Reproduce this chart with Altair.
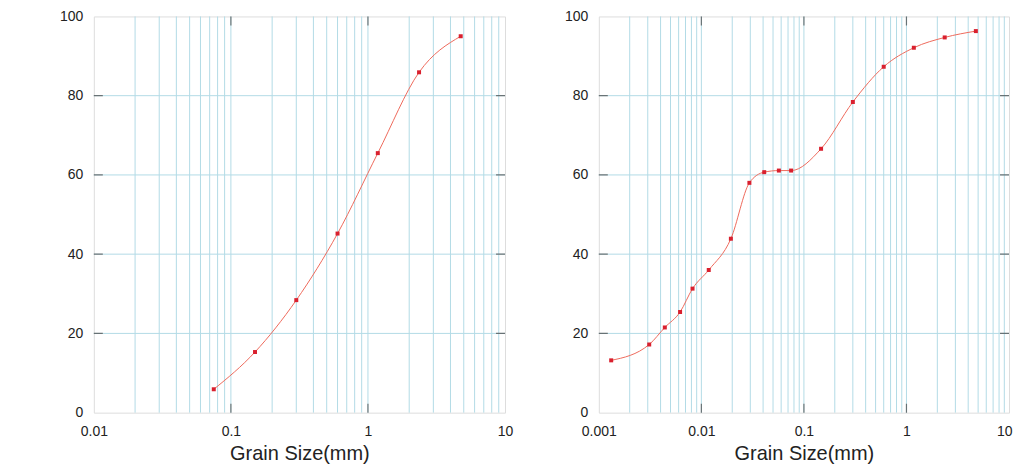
import altair as alt
import pandas as pd

# ---- data ----
left_size = [0.075, 0.15, 0.3, 0.6, 1.18, 2.36, 4.75]
left_pass = [5.9, 15.3, 28.4, 45.2, 65.5, 85.9, 95.0]

right_size = [0.00132, 0.0031, 0.0044, 0.0062, 0.0082, 0.0118, 0.0194, 0.0294,
              0.041, 0.057, 0.075, 0.147, 0.30, 0.60, 1.18, 2.36, 4.75]
right_pass = [13.2, 17.2, 21.5, 25.4, 31.3, 36.0, 43.9, 58.0,
              60.7, 61.1, 61.1, 66.6, 78.4, 87.3, 92.1, 94.7, 96.3]

left_decades = [0.01, 0.1, 1, 10]
right_decades = [0.001, 0.01, 0.1, 1, 10]
y_ticks = [0, 20, 40, 60, 80, 100]
y_inner = [20, 40, 60, 80]
x_title = "Grain Size(mm)"

FONT = "Liberation Sans"
GRID = "#b3dbe6"
FRAME = "#5a5a5a"
PT = "#d9202e"
LN = "#ee6a5c"
H = 397


def minor_lines(decades):
    vals = []
    for d in decades[:-1]:
        for m in range(1, 10):
            v = round(d * m, 6)
            if v > decades[0]:
                vals.append(v)
    return vals


def panel(sizes, passes, decades, left_extent, width, last_right):
    lo, hi = decades[0], decades[-1]
    xscale = alt.Scale(type="log", domain=[lo, hi], nice=False)
    yscale = alt.Scale(domain=[0, 100], nice=False)
    extra = {}
    if last_right:
        extra = dict(
            labelAlign=alt.condition(f"datum.value >= {hi}", alt.value("right"), alt.value("center")),
            labelOffset=alt.condition(f"datum.value >= {hi}", alt.value(3), alt.value(0)),
        )
    xaxis = alt.Axis(values=decades, format="~g", grid=False, ticks=False, domain=False,
                     labelFont=FONT, labelFontSize=14, labelColor="#222", labelPadding=12,
                     labelFlush=False, labelOverlap=False,
                     title=x_title, titleFont=FONT, titleFontSize=20,
                     titleFontWeight="normal", titleColor="#222", titlePadding=5, **extra)
    yaxis = alt.Axis(values=y_ticks, grid=False, ticks=False, domain=False,
                     labelFont=FONT, labelFontSize=14, labelColor="#222", labelPadding=11,
                     labelFlush=False, title=None, minExtent=left_extent)

    df = pd.DataFrame({"size": sizes, "pass": passes})
    vgrid = pd.DataFrame({"g": minor_lines(decades)})
    hgrid = pd.DataFrame({"g": y_inner})
    inner_dec = [d for d in decades[1:-1]]
    xt = pd.DataFrame({"x": inner_dec * 2, "y": [0] * len(inner_dec) + [100] * len(inner_dec)})
    yt = pd.DataFrame({"x": [lo] * len(y_inner) + [hi] * len(y_inner), "y": y_inner * 2})

    base_x = alt.X("size:Q", scale=xscale, axis=xaxis)
    base_y = alt.Y("pass:Q", scale=yscale, axis=yaxis)

    vg = alt.Chart(vgrid).mark_rule(color=GRID, strokeWidth=1).encode(
        x=alt.X("g:Q", scale=xscale, axis=xaxis))
    hg = alt.Chart(hgrid).mark_rule(color=GRID, strokeWidth=1).encode(
        y=alt.Y("g:Q", scale=yscale, axis=yaxis))
    xtk = alt.Chart(xt).mark_tick(orient="vertical", size=18, thickness=1.2,
                                  color="#444", clip=True).encode(
        x=alt.X("x:Q", scale=xscale, axis=xaxis), y=alt.Y("y:Q", scale=yscale, axis=yaxis))
    ytk = alt.Chart(yt).mark_tick(orient="horizontal", size=18, thickness=1.2,
                                  color="#444", clip=True).encode(
        x=alt.X("x:Q", scale=xscale, axis=xaxis), y=alt.Y("y:Q", scale=yscale, axis=yaxis))
    line = alt.Chart(df).mark_line(color=LN, strokeWidth=1, interpolate="monotone").encode(
        x=base_x, y=base_y)
    pts = alt.Chart(df).mark_square(color=PT, size=16, opacity=1).encode(x=base_x, y=base_y)
    return alt.layer(vg, hg, xtk, ytk, line, pts).properties(width=width, height=H)


left = panel(left_size, left_pass, left_decades, 85, 412, False)
right = panel(right_size, right_pass, right_decades, 85, 411, True)

chart = alt.hconcat(left, right, spacing=94, bounds="flush").properties(
    padding={"left": 0, "top": 0, "right": 0, "bottom": 0}
).configure_view(stroke=FRAME, strokeWidth=1.2).configure(background="white")

chart.save("out.html", embed_options={"renderer": "svg", "actions": False})
